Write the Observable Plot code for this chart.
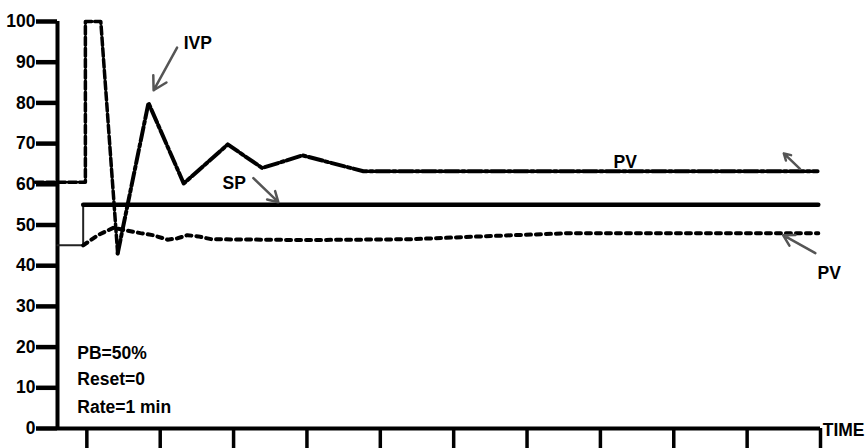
<!DOCTYPE html>
<html><head><meta charset="utf-8">
<script src="https://cdn.jsdelivr.net/npm/d3@7"></script>
<script src="https://cdn.jsdelivr.net/npm/@observablehq/plot@0.6"></script>
<style>
body{margin:0;background:#fff;}
svg{overflow:visible;font-family:"Liberation Sans",Arial,sans-serif;}
</style></head><body><div id="chart"></div>
<script>
// tick values
const yTicks = [0,10,20,30,40,50,60,70,80,90,100];
const xTicks = [0,1,2,3,4,5,6,7,8,9,10];
const xDomain = [-0.4, 10];

// upper trace (IVP / dash-dot)
const ivpTime  = [-0.70, -0.02, -0.02, 0.19, 0.42, 0.84, 1.32, 1.92, 2.39, 2.94, 3.77, 9.96];
const ivpValue = [60.5, 60.5, 100, 100, 43, 80, 60.2, 69.8, 64, 67.1, 63.2, 63.2];

// setpoint (solid)
const spTime  = [-0.40, -0.05, -0.05, 9.97];
const spValue = [45, 45, 55, 55];

// lower trace (PV dotted)
const pvTime  = [-0.05, 0.15, 0.36, 0.73, 0.90, 1.10, 1.23, 1.37, 1.52, 1.70, 3.00, 4.41, 5.37, 6.59, 9.97];
const pvValue = [45, 47.5, 49.3, 48, 47.5, 46.4, 46.7, 47.5, 47.2, 46.5, 46.3, 46.5, 47.2, 48, 48];

// annotation texts
const labelText  = ["IVP", "SP", "PV", "PV", "PB=50%", "Reset=0", "Rate=1 min", "TIME"];
const labelTime  = [1.32, 1.85, 7.18, 9.96, -0.13, -0.13, -0.13, 10.03];
const labelValue = [94.6, 60.2, 65.4, 38.2, 18.5, 12.1, 5.3, -0.4];

// annotation arrows
const arrowX1 = [1.23, 2.27, 9.93, 9.72];
const arrowY1 = [93.6, 61.5, 43.1, 63.8];
const arrowX2 = [0.91, 2.61, 9.49, 9.50];
const arrowY2 = [83.1, 55.6, 47.5, 67.6];

const ivp = ivpTime.map((t, i) => ({t, v: ivpValue[i]}));
const sp = spTime.map((t, i) => ({t, v: spValue[i]}));
const pv = pvTime.map((t, i) => ({t, v: pvValue[i]}));
const labels = labelText.map((s, i) => ({s, t: labelTime[i], v: labelValue[i]}));
const arrows = arrowX1.map((x1, i) => ({x1, y1: arrowY1[i], x2: arrowX2[i], y2: arrowY2[i]}));
const spLevel = spValue[spValue.length - 1];
const iMin = d3.minIndex(ivpValue);
const ivpSpike = ivp.slice(0, iMin + 1);
const ivpRest = ivp.slice(iMin);

const chart = Plot.plot({
  width: 867, height: 448,
  marginLeft: 57, marginRight: 47, marginTop: 21, marginBottom: 20,
  x: {domain: xDomain},
  y: {domain: [0, 100]},
  marks: [
    Plot.axisY({ticks: yTicks, tickSize: 21, tickPadding: 1, strokeWidth: 4.5, stroke: "#000",
      fontSize: 17.5, fontWeight: "bold", fill: "#000", label: null}),
    Plot.axisX({ticks: xTicks, tickSize: 20, strokeWidth: 3.5, stroke: "#000", tickFormat: () => "", label: null}),
    Plot.ruleX([xDomain[0]], {y1: 0, y2: 100, strokeWidth: 4, stroke: "#000"}),
    Plot.ruleY([0], {strokeWidth: 4, stroke: "#000"}),
    Plot.line(sp, {x: "t", y: "v", stroke: "#222", strokeWidth: 2}),
    Plot.line(sp.filter(d => d.v === spLevel), {x: "t", y: "v", stroke: "#000", strokeWidth: 4.5}),
    Plot.line(pv, {x: "t", y: "v", stroke: "#000", strokeWidth: 4, strokeDasharray: "5,5"}),
    Plot.line(ivpSpike, {x: "t", y: "v", stroke: "#000", strokeWidth: 3.5, strokeDasharray: "8,3"}),
    Plot.line(ivpRest, {x: "t", y: "v", stroke: "#000", strokeWidth: 4, strokeDasharray: "14,3,3,3"}),
    Plot.arrow(arrows, {x1: "x1", y1: "y1", x2: "x2", y2: "y2", stroke: "#555", strokeWidth: 2.5, headLength: 9}),
    Plot.text(labels, {x: "t", y: "v", text: "s", textAnchor: "start", fontSize: 17.5, fontWeight: "bold", fill: "#000"})
  ]
});
document.getElementById("chart").appendChild(chart);
</script></body></html>
